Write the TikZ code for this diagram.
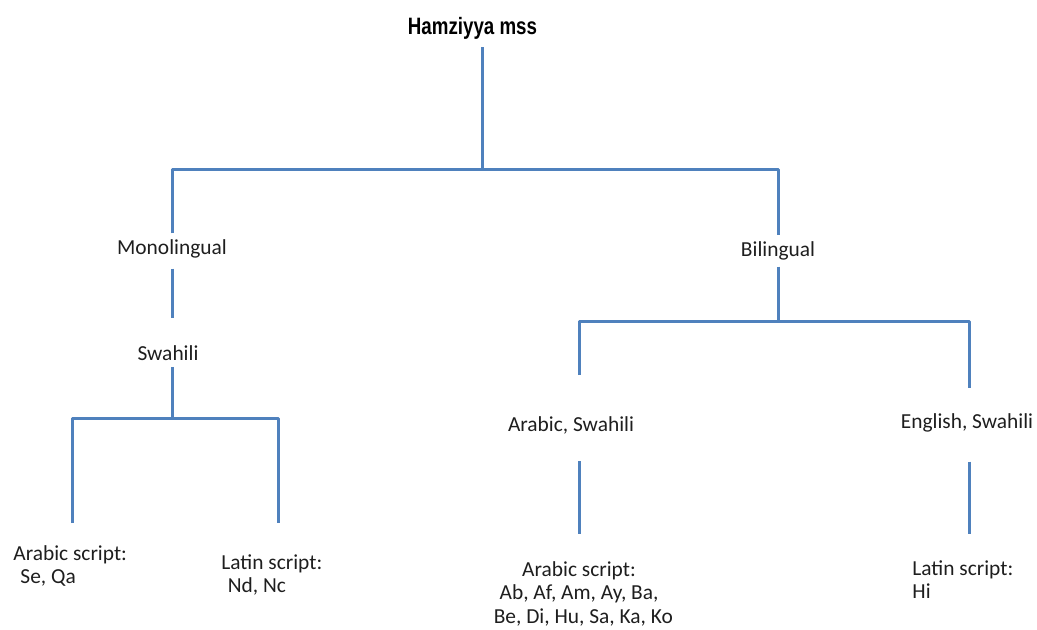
\documentclass[tikz,border=0pt]{standalone}
\usepackage{xcolor}
\usepackage{fontspec}
\usepackage{tikz}
\definecolor{branchblue}{RGB}{79, 129, 189}
\definecolor{labeltext}{RGB}{30, 30, 30}
\newfontfamily\lblfont{Carlito}
\newfontfamily\hdfont{Liberation Sans}[FakeStretch=0.79]

\begin{document}
\begin{tikzpicture}[x=0.5pt, y=-0.5pt,
    branch/.style={draw=branchblue, line width=1.5pt, line join=round},
    lbl/.style={font=\lblfont\fontsize{10.7}{11.7}\selectfont, text=labeltext, inner sep=3pt},
    leaf/.style={lbl, inner sep=0pt, align=left},
    midleaf/.style={lbl, inner sep=0pt, align=center}]
    \useasboundingbox (0,0) rectangle (1037,630);

    \node[font=\hdfont\bfseries\fontsize{11.85}{14}\selectfont, inner sep=3.5pt, anchor=base] (root) at (472.5,35) {Hamziyya mss};
    \node[lbl] (mono) at (172,249) {Monolingual};
    \node[lbl] (bi) at (778,251) {Bilingual};
    \node[lbl] (swa) at (168,353) {Swahili};
    \node[lbl] (arsw) at (571,425) {Arabic, Swahili};
    \node[lbl] (ensw) at (967,423) {English, Swahili};

    \node[leaf, anchor=north west] (leafSeQa) at (13,545) {Arabic script:\\\hspace*{0.33em}Se, Qa};
    \node[leaf, anchor=north west] (leafNdNc) at (221,554) {Latin script:\\\hspace*{0.3em}Nd, Nc};
    \node[midleaf, anchor=north] (leafAb) at (579,561) {Arabic script:\\Ab, Af, Am, Ay, Ba,\\\hspace*{0.4em}Be, Di, Hu, Sa, Ka, Ko};
    \node[leaf, anchor=north west] (leafHi) at (912,560) {Latin script:\\Hi};

    \coordinate (j1) at (482,170);
    \coordinate (j2) at (172,418);
    \coordinate (j3) at (778,322);
    \coordinate (sa) at (72,523);
    \coordinate (sl) at (278,523);
    \coordinate (ba) at (579,375);
    \coordinate (be) at (969,388);

    \draw[branch] (j1 |- root.south) -- (j1);
    \draw[branch] (mono.north) |- (j1) -| (bi.north);
    \draw[branch, shorten <=2pt, shorten >=10.5pt] (mono.south) -- (mono.south |- swa.north);
    \draw[branch] (j2 |- swa.south) -- (j2);
    \draw[branch] (sa) |- (j2) -| (sl);
    \draw[branch] (bi.south) -- (j3);
    \draw[branch] (ba) |- (j3) -| (be);
    \draw[branch, shorten <=10.5pt, shorten >=13.5pt] (arsw.south -| ba) -- (leafAb.north -| ba);
    \draw[branch, shorten <=11.5pt, shorten >=13pt] (ensw.south -| be) -- (leafHi.north -| be);
\end{tikzpicture}
\end{document}
